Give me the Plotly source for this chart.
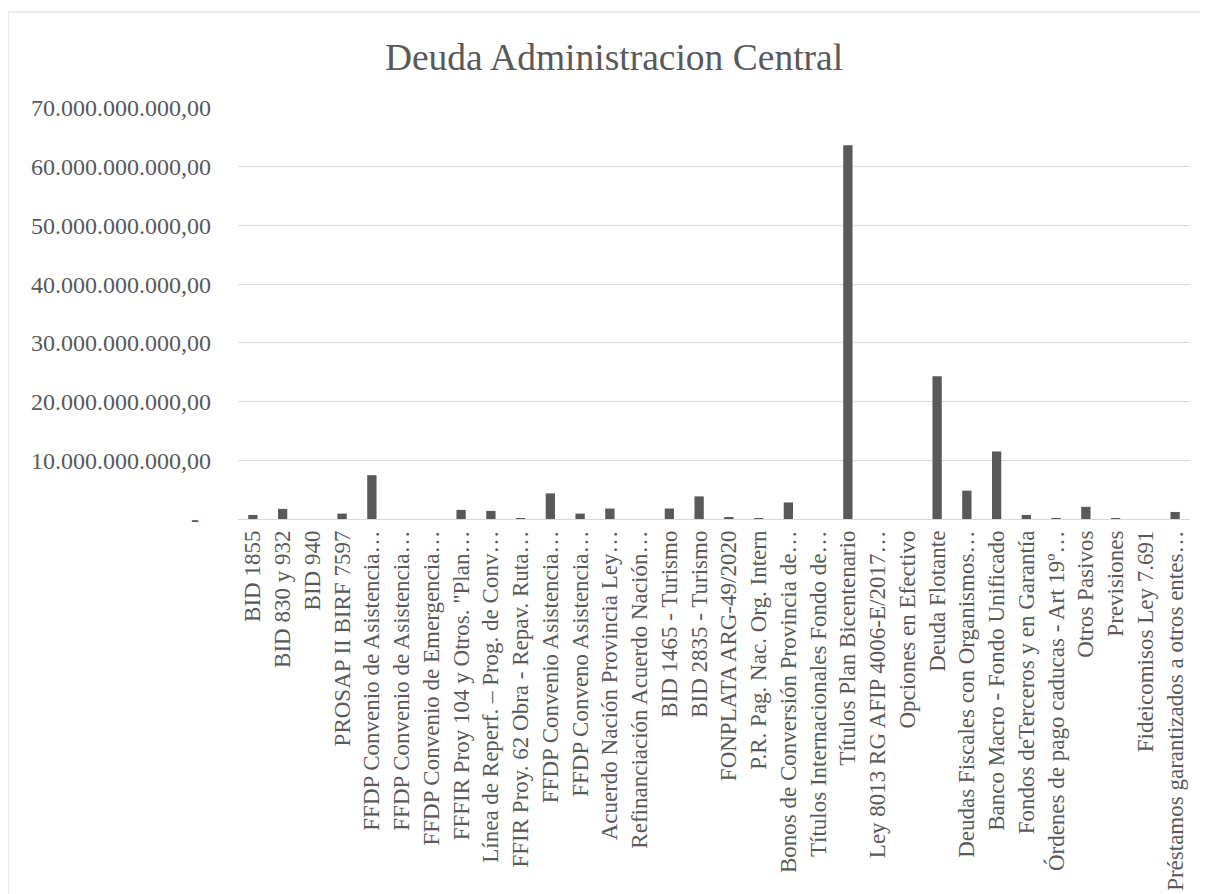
import plotly.graph_objects as go

categories = [
    "BID 1855",
    "BID 830 y 932",
    "BID 940",
    "PROSAP II BIRF 7597",
    "FFDP Convenio de Asistencia…",
    "FFDP Convenio de Asistencia…",
    "FFDP Convenio de Emergencia…",
    'FFFIR Proy 104 y Otros. "Plan…',
    "Línea de Reperf. – Prog. de Conv…",
    "FFIR Proy. 62 Obra - Repav. Ruta…",
    "FFDP Convenio Asistencia…",
    "FFDP Conveno Asistencia…",
    "Acuerdo Nación Provincia Ley…",
    "Refinanciación Acuerdo Nación…",
    "BID 1465 - Turismo",
    "BID 2835 - Turismo",
    "FONPLATA ARG-49/2020",
    "P.R. Pag. Nac. Org. Intern",
    "Bonos de Conversión Provincia de…",
    "Títulos Internacionales Fondo de…",
    "Títulos Plan Bicentenario",
    "Ley 8013 RG AFIP 4006-E/2017…",
    "Opciones en Efectivo",
    "Deuda Flotante",
    "Deudas Fiscales con Organismos…",
    "Banco Macro - Fondo Unificado",
    "Fondos deTerceros y en Garantía",
    "Órdenes de pago caducas - Art 19º…",
    "Otros Pasivos",
    "Previsiones",
    "Fideicomisos Ley 7.691",
    "Préstamos garantizados a otros entes…",
]

values = [
    690_000_000, 1_720_000_000, 0, 920_000_000, 7_470_000_000,
    0, 0, 1_550_000_000, 1_380_000_000, 100_000_000,
    4_370_000_000, 920_000_000, 1_780_000_000, 0, 1_780_000_000,
    3_850_000_000, 230_000_000, 50_000_000, 2_820_000_000, 0,
    63_650_000_000, 0, 0, 24_330_000_000, 4_830_000_000,
    11_500_000_000, 690_000_000, 60_000_000, 2_070_000_000, 170_000_000,
    0, 1_200_000_000,
]

y_tickvals = [0, 10e9, 20e9, 30e9, 40e9, 50e9, 60e9, 70e9]
y_ticktext = ["-\u00a0\u00a0", "10.000.000.000,00", "20.000.000.000,00",
              "30.000.000.000,00", "40.000.000.000,00", "50.000.000.000,00",
              "60.000.000.000,00", "70.000.000.000,00"]

title_text = "Deuda Administracion Central"

OFF = 8  # default page body margin
W, H = 1208 - OFF, 894 - OFF
L, R, T, B = 238 - OFF, 18, 108 - OFF, 375
pw, ph = W - L - R, H - T - B

x_idx = list(range(len(categories)))

fig = go.Figure(go.Bar(
    x=x_idx, y=values,
    marker=dict(color="#595959", line=dict(width=0)),
    hoverinfo="skip",
))

font_family = "Liberation Serif, Times New Roman, serif"
grey = "#595959"

def px_to_paper_x(px):
    return (px - OFF - L) / pw

def px_to_paper_y(py):
    return 1 - (py - OFF - T) / ph

fig.update_layout(
    width=W, height=H, autosize=False,
    margin=dict(l=L, r=R, t=T, b=B, pad=0, autoexpand=False),
    paper_bgcolor="white", plot_bgcolor="white",
    bargap=0.687,
    showlegend=False,
    font=dict(family=font_family, color=grey, size=24),
    title=dict(text=title_text, x=(614 - OFF) / W, xanchor="center",
               y=1 - (57 - OFF) / H, yanchor="middle", yref="container",
               font=dict(family=font_family, size=37.5, color=grey)),
    shapes=[dict(type="rect", xref="paper", yref="paper",
                 x0=px_to_paper_x(8), x1=px_to_paper_x(1230),
                 y0=px_to_paper_y(920), y1=px_to_paper_y(12),
                 line=dict(color="#d9d9d9", width=1), fillcolor="rgba(0,0,0,0)",
                 layer="below")],
)

fig.update_xaxes(
    range=[-0.5, len(categories) - 0.5],
    tickmode="array", tickvals=x_idx, ticktext=categories,
    tickangle=-90, showgrid=False, zeroline=False, automargin=False,
    showline=False, ticks="", ticklabelstandoff=6,
    tickfont=dict(family=font_family, size=23, color=grey),
    fixedrange=True,
)
fig.update_yaxes(
    range=[0, 70e9], automargin=False,
    tickmode="array", tickvals=y_tickvals, ticktext=y_ticktext,
    showgrid=True, gridcolor="#d9d9d9", gridwidth=1,
    zeroline=True, zerolinecolor="#d9d9d9", zerolinewidth=1,
    showline=False, ticks="", ticklabelstandoff=26,
    tickfont=dict(family=font_family, size=24, color=grey),
    fixedrange=True,
)

fig.write_html("out.html", config={"displayModeBar": False})
